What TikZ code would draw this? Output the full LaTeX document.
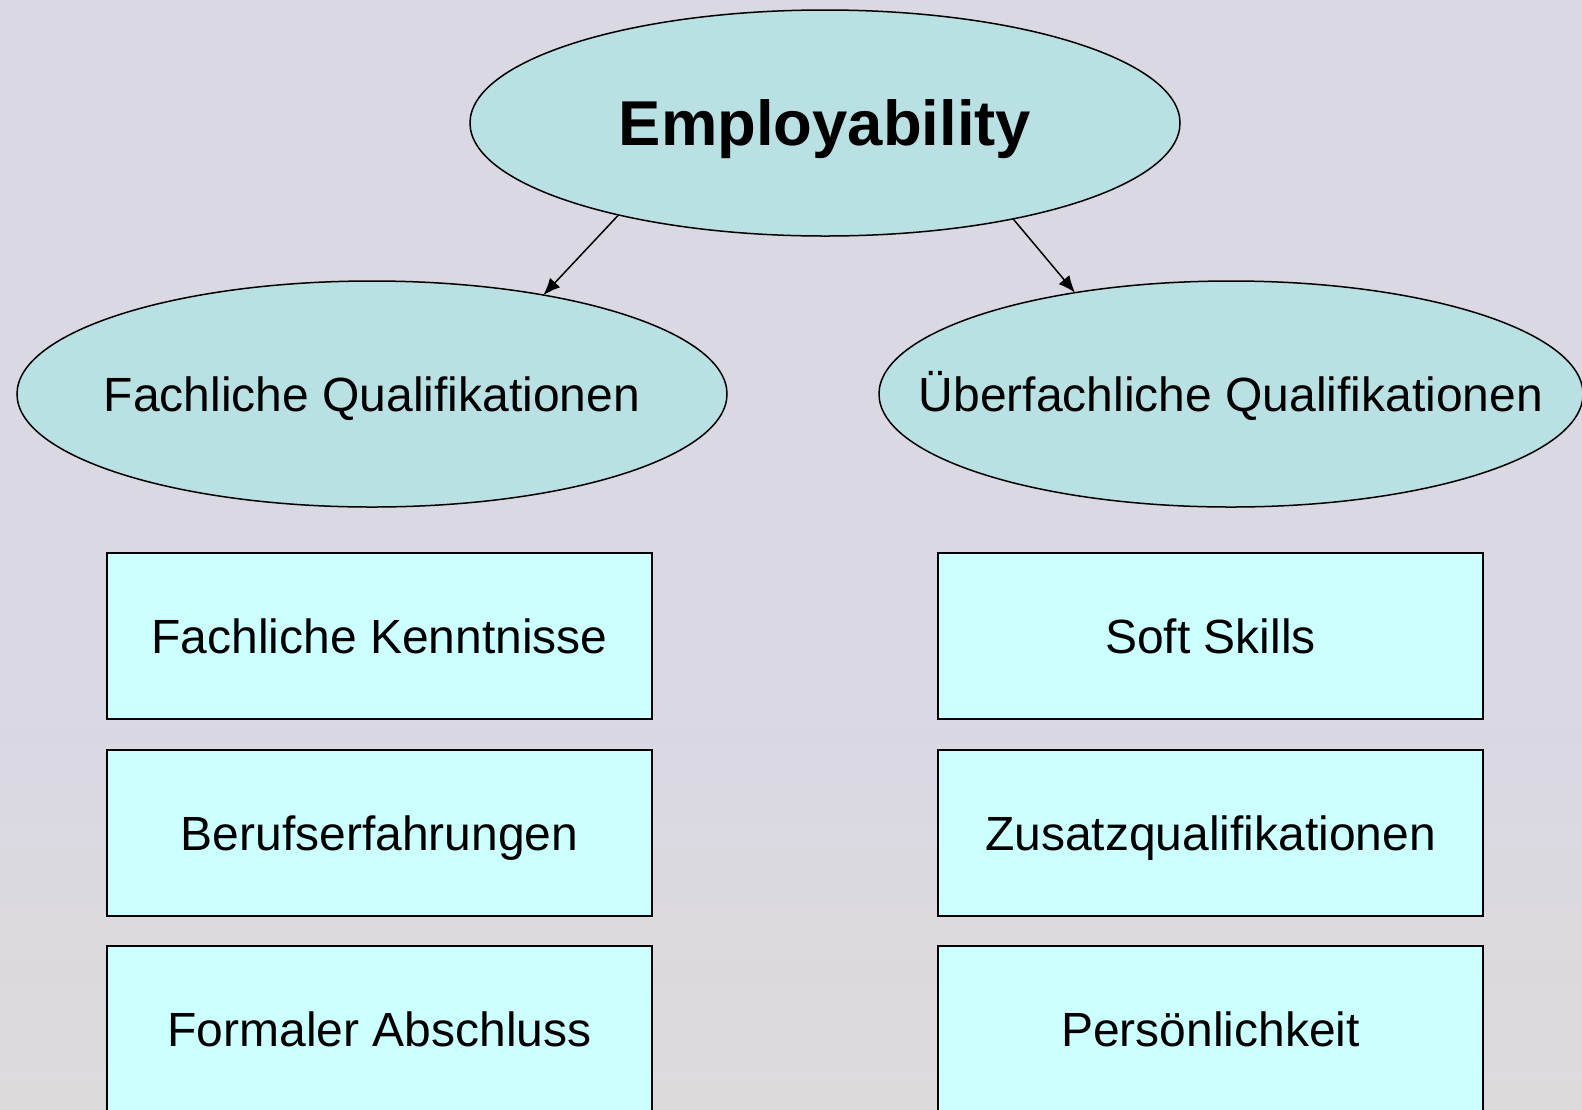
\documentclass[tikz,border=0pt]{standalone}
\usepackage{fontspec}
\setmainfont{Liberation Sans}
\usetikzlibrary{shapes.geometric,arrows.meta}
\definecolor{bg}{HTML}{D9D8E3}
\definecolor{bglow}{HTML}{DEDADC}
\definecolor{ovalfill}{HTML}{B9E0E2}
\definecolor{boxfill}{HTML}{CCFFFF}
\tikzset{
  oval/.style={ellipse, draw=black, line width=0.75pt, fill=ovalfill, inner sep=0pt, outer sep=0pt,
    minimum width=355pt, minimum height=113pt, font=\fontsize{24}{29}\selectfont,
    text height=17.2pt, text depth=0pt},
  itembox/.style={rectangle, draw=black, line width=1pt, fill=boxfill, inner sep=0pt, outer sep=0pt,
    minimum width=272.5pt, minimum height=83pt, font=\fontsize{24}{29}\selectfont,
    text height=17.2pt, text depth=0pt},
  arr/.style={draw=black, line width=0.75pt, -{Latex[length=8.5pt,width=7pt]}}
}
\begin{document}
\begin{tikzpicture}[x=0.5pt,y=-0.5pt]
\useasboundingbox (0,0) rectangle (1582,1109);
\clip (0,0) rectangle (1582,1109);
\fill[bg] (0,0) rectangle (1582,1109);
\shade[top color=bg, bottom color=bglow] (0,700) rectangle (1582,1109);

\node[oval, font=\fontsize{31.7}{38}\selectfont\bfseries, text height=22.7pt] (emp) at (825,123) {\makebox[0pt][c]{Employability}};
\node[oval] (fq) at (372,394) {\makebox[0pt][c]{Fachliche Qualifikationen}};
\node[oval, minimum width=352pt] (uq) at (1231,394) {\makebox[0pt][c]{Überfachliche Qualifikationen}};

\node[itembox] (fk) at (379.5,636) {Fachliche Kenntnisse};
\node[itembox] (be) at (379.5,833) {Berufserfahrungen};
\node[itembox] (fa) at (379.5,1029) {Formaler Abschluss};
\node[itembox] (ss) at (1210.5,636) {Soft Skills};
\node[itembox] (zq) at (1210.5,833) {Zusatzqualifikationen};
\node[itembox] (pe) at (1210.5,1029) {Persönlichkeit};

\draw[arr] (emp.204.5) -- (fq.30);
\draw[arr] (emp.-27.4) -- (uq.147.6);
\end{tikzpicture}
\end{document}
